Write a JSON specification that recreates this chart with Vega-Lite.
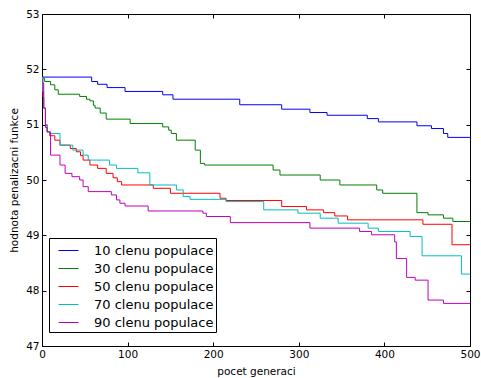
{
  "$schema": "https://vega.github.io/schema/vega-lite/v6.json",
  "width": 428,
  "height": 332,
  "autosize": {"type": "none"},
  "padding": {"left": 42, "top": 14, "right": 11, "bottom": 32},
  "background": "white",
  "config": {
    "font": "DejaVu Sans",
    "view": {"stroke": "black", "strokeWidth": 1},
    "axis": {"grid": false, "domainColor": "black", "tickColor": "black", "labelColor": "black", "titleColor": "black", "labelFontSize": 10.5, "titleFontSize": 10.5, "titleFontWeight": "normal", "domain": false}
  },
  "datasets": {
    "runs": [
      {"s": "10 clenu populace", "x": 0, "y": 51.86},
      {"s": "10 clenu populace", "x": 58, "y": 51.78},
      {"s": "10 clenu populace", "x": 65, "y": 51.73},
      {"s": "10 clenu populace", "x": 76, "y": 51.67},
      {"s": "10 clenu populace", "x": 97, "y": 51.60},
      {"s": "10 clenu populace", "x": 141, "y": 51.54},
      {"s": "10 clenu populace", "x": 153, "y": 51.46},
      {"s": "10 clenu populace", "x": 231, "y": 51.36},
      {"s": "10 clenu populace", "x": 280, "y": 51.28},
      {"s": "10 clenu populace", "x": 313, "y": 51.22},
      {"s": "10 clenu populace", "x": 333, "y": 51.17},
      {"s": "10 clenu populace", "x": 380, "y": 51.11},
      {"s": "10 clenu populace", "x": 393, "y": 51.05},
      {"s": "10 clenu populace", "x": 438, "y": 50.98},
      {"s": "10 clenu populace", "x": 455, "y": 50.93},
      {"s": "10 clenu populace", "x": 469, "y": 50.84},
      {"s": "10 clenu populace", "x": 474, "y": 50.77},
      {"s": "10 clenu populace", "x": 500, "y": 50.76},

      {"s": "30 clenu populace", "x": 0, "y": 51.84},
      {"s": "30 clenu populace", "x": 3, "y": 51.78},
      {"s": "30 clenu populace", "x": 10, "y": 51.72},
      {"s": "30 clenu populace", "x": 15, "y": 51.63},
      {"s": "30 clenu populace", "x": 19, "y": 51.55},
      {"s": "30 clenu populace", "x": 44, "y": 51.51},
      {"s": "30 clenu populace", "x": 52, "y": 51.46},
      {"s": "30 clenu populace", "x": 56, "y": 51.43},
      {"s": "30 clenu populace", "x": 60, "y": 51.35},
      {"s": "30 clenu populace", "x": 62, "y": 51.30},
      {"s": "30 clenu populace", "x": 68, "y": 51.21},
      {"s": "30 clenu populace", "x": 75, "y": 51.10},
      {"s": "30 clenu populace", "x": 103, "y": 51.02},
      {"s": "30 clenu populace", "x": 141, "y": 50.96},
      {"s": "30 clenu populace", "x": 148, "y": 50.90},
      {"s": "30 clenu populace", "x": 151, "y": 50.84},
      {"s": "30 clenu populace", "x": 157, "y": 50.72},
      {"s": "30 clenu populace", "x": 179, "y": 50.54},
      {"s": "30 clenu populace", "x": 185, "y": 50.30},
      {"s": "30 clenu populace", "x": 190, "y": 50.27},
      {"s": "30 clenu populace", "x": 270, "y": 50.18},
      {"s": "30 clenu populace", "x": 278, "y": 50.09},
      {"s": "30 clenu populace", "x": 325, "y": 50.00},
      {"s": "30 clenu populace", "x": 348, "y": 49.91},
      {"s": "30 clenu populace", "x": 391, "y": 49.82},
      {"s": "30 clenu populace", "x": 398, "y": 49.76},
      {"s": "30 clenu populace", "x": 438, "y": 49.41},
      {"s": "30 clenu populace", "x": 451, "y": 49.37},
      {"s": "30 clenu populace", "x": 469, "y": 49.31},
      {"s": "30 clenu populace", "x": 480, "y": 49.25},
      {"s": "30 clenu populace", "x": 500, "y": 49.25},

      {"s": "50 clenu populace", "x": 0, "y": 51.85},
      {"s": "50 clenu populace", "x": 1, "y": 51.5},
      {"s": "50 clenu populace", "x": 2, "y": 51.3},
      {"s": "50 clenu populace", "x": 4, "y": 51.0},
      {"s": "50 clenu populace", "x": 6, "y": 50.87},
      {"s": "50 clenu populace", "x": 9, "y": 50.80},
      {"s": "50 clenu populace", "x": 15, "y": 50.72},
      {"s": "50 clenu populace", "x": 21, "y": 50.63},
      {"s": "50 clenu populace", "x": 33, "y": 50.57},
      {"s": "50 clenu populace", "x": 40, "y": 50.51},
      {"s": "50 clenu populace", "x": 45, "y": 50.44},
      {"s": "50 clenu populace", "x": 48, "y": 50.36},
      {"s": "50 clenu populace", "x": 56, "y": 50.27},
      {"s": "50 clenu populace", "x": 65, "y": 50.21},
      {"s": "50 clenu populace", "x": 75, "y": 50.12},
      {"s": "50 clenu populace", "x": 83, "y": 50.04},
      {"s": "50 clenu populace", "x": 88, "y": 49.97},
      {"s": "50 clenu populace", "x": 93, "y": 49.91},
      {"s": "50 clenu populace", "x": 130, "y": 49.85},
      {"s": "50 clenu populace", "x": 150, "y": 49.76},
      {"s": "50 clenu populace", "x": 208, "y": 49.67},
      {"s": "50 clenu populace", "x": 215, "y": 49.63},
      {"s": "50 clenu populace", "x": 280, "y": 49.52},
      {"s": "50 clenu populace", "x": 309, "y": 49.46},
      {"s": "50 clenu populace", "x": 329, "y": 49.41},
      {"s": "50 clenu populace", "x": 342, "y": 49.35},
      {"s": "50 clenu populace", "x": 357, "y": 49.28},
      {"s": "50 clenu populace", "x": 445, "y": 49.20},
      {"s": "50 clenu populace", "x": 479, "y": 48.83},
      {"s": "50 clenu populace", "x": 500, "y": 48.83},

      {"s": "70 clenu populace", "x": 0, "y": 51.85},
      {"s": "70 clenu populace", "x": 1, "y": 51.6},
      {"s": "70 clenu populace", "x": 2, "y": 51.3},
      {"s": "70 clenu populace", "x": 4, "y": 51.0},
      {"s": "70 clenu populace", "x": 6, "y": 50.87},
      {"s": "70 clenu populace", "x": 9, "y": 50.84},
      {"s": "70 clenu populace", "x": 21, "y": 50.63},
      {"s": "70 clenu populace", "x": 36, "y": 50.54},
      {"s": "70 clenu populace", "x": 48, "y": 50.45},
      {"s": "70 clenu populace", "x": 54, "y": 50.36},
      {"s": "70 clenu populace", "x": 79, "y": 50.27},
      {"s": "70 clenu populace", "x": 87, "y": 50.21},
      {"s": "70 clenu populace", "x": 112, "y": 50.13},
      {"s": "70 clenu populace", "x": 126, "y": 49.91},
      {"s": "70 clenu populace", "x": 157, "y": 49.82},
      {"s": "70 clenu populace", "x": 165, "y": 49.70},
      {"s": "70 clenu populace", "x": 173, "y": 49.65},
      {"s": "70 clenu populace", "x": 215, "y": 49.61},
      {"s": "70 clenu populace", "x": 259, "y": 49.46},
      {"s": "70 clenu populace", "x": 299, "y": 49.40},
      {"s": "70 clenu populace", "x": 325, "y": 49.31},
      {"s": "70 clenu populace", "x": 346, "y": 49.22},
      {"s": "70 clenu populace", "x": 381, "y": 49.13},
      {"s": "70 clenu populace", "x": 393, "y": 49.07},
      {"s": "70 clenu populace", "x": 430, "y": 48.98},
      {"s": "70 clenu populace", "x": 444, "y": 48.63},
      {"s": "70 clenu populace", "x": 490, "y": 48.30},
      {"s": "70 clenu populace", "x": 500, "y": 48.30},

      {"s": "90 clenu populace", "x": 0, "y": 51.75},
      {"s": "90 clenu populace", "x": 2, "y": 51.3},
      {"s": "90 clenu populace", "x": 4, "y": 50.95},
      {"s": "90 clenu populace", "x": 6, "y": 50.87},
      {"s": "90 clenu populace", "x": 10, "y": 50.45},
      {"s": "90 clenu populace", "x": 21, "y": 50.27},
      {"s": "90 clenu populace", "x": 27, "y": 50.12},
      {"s": "90 clenu populace", "x": 35, "y": 50.06},
      {"s": "90 clenu populace", "x": 44, "y": 50.00},
      {"s": "90 clenu populace", "x": 48, "y": 49.88},
      {"s": "90 clenu populace", "x": 54, "y": 49.79},
      {"s": "90 clenu populace", "x": 81, "y": 49.73},
      {"s": "90 clenu populace", "x": 87, "y": 49.64},
      {"s": "90 clenu populace", "x": 91, "y": 49.58},
      {"s": "90 clenu populace", "x": 97, "y": 49.53},
      {"s": "90 clenu populace", "x": 124, "y": 49.44},
      {"s": "90 clenu populace", "x": 188, "y": 49.40},
      {"s": "90 clenu populace", "x": 192, "y": 49.34},
      {"s": "90 clenu populace", "x": 220, "y": 49.23},
      {"s": "90 clenu populace", "x": 313, "y": 49.13},
      {"s": "90 clenu populace", "x": 371, "y": 49.07},
      {"s": "90 clenu populace", "x": 385, "y": 49.01},
      {"s": "90 clenu populace", "x": 412, "y": 48.88},
      {"s": "90 clenu populace", "x": 414, "y": 48.58},
      {"s": "90 clenu populace", "x": 426, "y": 48.24},
      {"s": "90 clenu populace", "x": 436, "y": 48.19},
      {"s": "90 clenu populace", "x": 451, "y": 47.83},
      {"s": "90 clenu populace", "x": 469, "y": 47.77},
      {"s": "90 clenu populace", "x": 500, "y": 47.77}
    ]
  },
  "data": {"name": "runs"},
  "layer": [
    {
      "mark": {"type": "line", "interpolate": "step-after", "strokeWidth": 1, "clip": true},
      "encoding": {
        "x": {"field": "x", "type": "quantitative", "scale": {"domain": [0, 500], "nice": false},
              "axis": {"orient": "bottom", "title": "pocet generaci", "values": [0, 100, 200, 300, 400, 500], "tickSize": -4, "labelPadding": 7, "titlePadding": 7, "labelFlush": false}},
        "y": {"field": "y", "type": "quantitative", "scale": {"domain": [47, 53], "nice": false, "zero": false},
              "axis": {"orient": "left", "title": "hodnota penalizacni funkce", "values": [47, 48, 49, 50, 51, 52, 53], "tickSize": -4, "labelPadding": 7, "titlePadding": 6, "labelFlush": false}},
        "stroke": {"field": "s", "type": "nominal",
                  "scale": {"domain": ["10 clenu populace", "30 clenu populace", "50 clenu populace", "70 clenu populace", "90 clenu populace"],
                            "range": ["#0000ff", "#008000", "#ff0000", "#00bfbf", "#bf00bf"]},
                  "legend": {"title": null, "orient": "none", "legendX": 7, "legendY": 224, "symbolType": "stroke", "symbolSize": 400, "symbolStrokeWidth": 1,
                             "labelFontSize": 13, "labelColor": "black", "rowPadding": 0, "padding": 2, "symbolOffset": 7, "labelOffset": 15,
                             "strokeColor": "black", "fillColor": "white", "cornerRadius": 0, "labelLimit": 300,
                             "encode": {"symbols": {"update": {"stroke": {"scale": "stroke", "field": "value"}, "opacity": {"value": 1}}}}}}
      }
    },
    {
      "mark": {"type": "point", "opacity": 0},
      "encoding": {
        "x": {"field": "x", "type": "quantitative", "axis": {"orient": "top", "title": null, "labels": false, "values": [0, 100, 200, 300, 400, 500], "tickSize": -4}},
        "y": {"field": "y", "type": "quantitative", "axis": {"orient": "right", "title": null, "labels": false, "values": [47, 48, 49, 50, 51, 52, 53], "tickSize": -4}}
      }
    }
  ],
  "resolve": {"axis": {"x": "independent", "y": "independent"}}
}
